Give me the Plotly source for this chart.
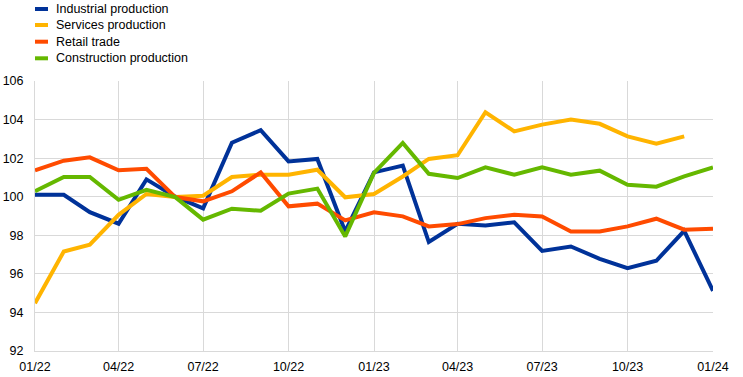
import plotly.graph_objects as go
import pandas as pd

months = pd.date_range("2022-01-01", "2024-01-01", freq="MS")

industrial = [100.1, 100.1, 99.2, 98.6, 100.9, 100.0, 99.4, 102.8, 103.45, 101.83, 101.96, 98.2,
              101.26, 101.61, 97.65, 98.6, 98.51, 98.67, 97.19, 97.42, 96.78, 96.3, 96.68, 98.23, 95.12]
services = [94.48, 97.16, 97.51, 99.06, 100.14, 99.98, 100.05, 101.02, 101.14, 101.14, 101.4, 99.97,
            100.14, 101.05, 101.96, 102.15, 104.38, 103.39, 103.74, 104.0, 103.78, 103.13, 102.75, 103.13, None]
retail = [101.37, 101.87, 102.04, 101.37, 101.45, 99.98, 99.76, 100.28, 101.26, 99.5, 99.64, 98.77,
          99.19, 98.98, 98.46, 98.58, 98.89, 99.06, 98.98, 98.2, 98.2, 98.46, 98.86, 98.29, 98.34]
construction = [100.28, 101.02, 101.02, 99.84, 100.36, 99.98, 98.81, 99.38, 99.27, 100.16, 100.42, 97.94,
                101.23, 102.79, 101.19, 100.97, 101.52, 101.14, 101.52, 101.14, 101.35, 100.62, 100.52, 101.05, 101.52]

series_names = ["Industrial production", "Services production", "Retail trade", "Construction production"]
series_values = [industrial, services, retail, construction]
colors = ["#003299", "#FFB400", "#FF4B00", "#65B800"]

y_ticks = [92, 94, 96, 98, 100, 102, 104, 106]

W, H = 743, 377
ML, MR, MT, MB = 35, 30, 81, 26
PW, PH = W - ML - MR, H - MT - MB
FS = 12.5

fig = go.Figure()
for name, vals, col in zip(series_names, series_values, colors):
    fig.add_trace(go.Scatter(x=months, y=vals, mode="lines", name=name,
                             line=dict(color=col, width=4), showlegend=False))

# manual legend (short bars + labels) positioned in pixels above the plot
legend_rows_px = [9, 25, 41.7, 58.3]
for name, col, ypx in zip(series_names, colors, legend_rows_px):
    yp = (H - MB - ypx) / PH
    fig.add_shape(type="line", xref="paper", yref="paper",
                  x0=0, x1=13 / PW, y0=yp, y1=yp,
                  line=dict(color=col, width=4))
    fig.add_annotation(xref="paper", yref="paper", x=19 / PW, y=yp,
                       xanchor="left", yanchor="middle", text=name, showarrow=False,
                       font=dict(size=FS, color="#000000"))

fig.update_layout(
    width=W, height=H,
    margin=dict(l=ML, r=MR, t=MT, b=MB, autoexpand=False),
    paper_bgcolor="white", plot_bgcolor="white",
    font=dict(family="Liberation Sans, Arial, sans-serif", size=FS, color="#000000"),
    showlegend=False,
    xaxis=dict(range=[months[0], months[-1]], tickformat="%m/%y", dtick="M3",
               tick0="2022-01-01", showgrid=True, gridcolor="#d9d9d9", gridwidth=1,
               showline=True, linecolor="#d9d9d9", linewidth=1, zeroline=False,
               ticks="", ticklabelstandoff=4, automargin=False, fixedrange=True),
    yaxis=dict(range=[92, 106], tickvals=y_ticks, showgrid=True, gridcolor="#d9d9d9",
               gridwidth=1, showline=True, linecolor="#d9d9d9", linewidth=1,
               zeroline=False, ticks="", ticklabelstandoff=8, automargin=False,
               fixedrange=True),
)

fig.write_html("out.html", config={"displayModeBar": False},
               post_script="document.body.style.margin='0';document.body.style.overflow='hidden';")
